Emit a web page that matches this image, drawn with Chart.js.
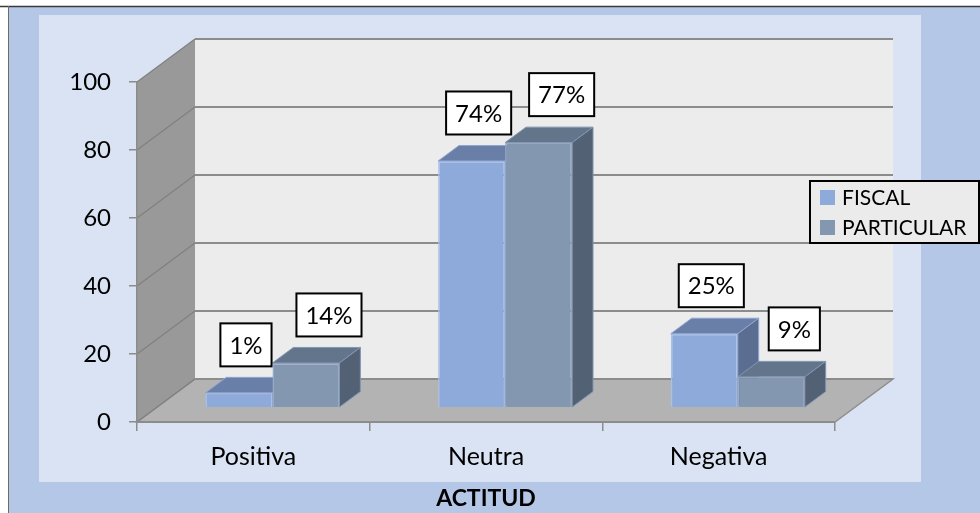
<!DOCTYPE html>
<html><head><meta charset="utf-8">
<script src="https://cdn.jsdelivr.net/npm/chart.js@4.4.1/dist/chart.umd.min.js"></script>
<style>html,body{margin:0;padding:0;background:#fff;overflow:hidden}</style>
</head><body>
<canvas id="c" width="980" height="513"></canvas>
<script>
// ---- data ----
const categories = ['Positiva', 'Neutra', 'Negativa'];
const seriesNames = ['FISCAL', 'PARTICULAR'];
const fiscalValues = [4.4, 72.6, 21.8];
const particularValues = [13.2, 78, 9.1];
const fiscalLabels = ['1%', '74%', '25%'];
const particularLabels = ['14%', '77%', '9%'];
const yTicks = [0, 20, 40, 60, 80, 100];
const axisTitle = 'ACTITUD';

const FONT = 'Lato, "Open Sans", sans-serif';
const DEPTH = { dx: 58, dy: 43 };
const BAR_OFF = 0.33, BAR_DEPTH = 0.36;

function poly(ctx, pts, fill, stroke, lw) {
  ctx.beginPath();
  ctx.moveTo(pts[0][0], pts[0][1]);
  for (let i = 1; i < pts.length; i++) ctx.lineTo(pts[i][0], pts[i][1]);
  ctx.closePath();
  if (fill) { ctx.fillStyle = fill; ctx.fill(); }
  if (stroke) { ctx.strokeStyle = stroke; ctx.lineWidth = lw || 1; ctx.stroke(); }
}

const scene = {
  id: 'scene',
  beforeDraw(chart) {
    const { ctx } = chart;
    const x = chart.scales.x, y = chart.scales.y;
    const W = chart.width, H = chart.height;
    ctx.save();
    ctx.fillStyle = '#ffffff'; ctx.fillRect(0, 0, W, H);
    ctx.fillStyle = '#b4c7e7'; ctx.fillRect(8, 6, W - 8, H - 6);
    ctx.strokeStyle = '#3a3a3a'; ctx.lineWidth = 1.5;
    ctx.beginPath(); ctx.moveTo(0, 6.5); ctx.lineTo(W, 6.5); ctx.stroke();
    ctx.strokeStyle = '#6b6b6b'; ctx.lineWidth = 1;
    ctx.beginPath(); ctx.moveTo(8.5, 6); ctx.lineTo(8.5, H); ctx.stroke();
    ctx.fillStyle = '#dae3f3'; ctx.fillRect(39, 15, 882, 467);

    const L = x.left, R = x.right;
    const B = y.getPixelForValue(0), T = y.getPixelForValue(100);
    const dx = DEPTH.dx, dy = DEPTH.dy;
    poly(ctx, [[L + dx, T - dy], [R + dx, T - dy], [R + dx, B - dy], [L + dx, B - dy]], '#ececec');
    poly(ctx, [[L, T], [L + dx, T - dy], [L + dx, B - dy], [L, B]], '#999999');
    poly(ctx, [[L, B], [L + dx, B - dy], [R + dx, B - dy], [R, B]], '#b3b3b3', '#8f8f8f', 1.5);
    y.ticks.forEach(t => {
      const py = y.getPixelForValue(t.value);
      ctx.strokeStyle = '#8c8c8c'; ctx.lineWidth = 2;
      ctx.beginPath(); ctx.moveTo(L + dx, py - dy); ctx.lineTo(R + dx, py - dy); ctx.stroke();
      ctx.strokeStyle = '#808080'; ctx.lineWidth = 1.2;
      ctx.beginPath(); ctx.moveTo(L, py); ctx.lineTo(L + dx, py - dy); ctx.stroke();
    });
    ctx.restore();
  },
  beforeDatasetsDraw(chart) {
    const { ctx } = chart;
    const ox = DEPTH.dx * BAR_OFF, oy = DEPTH.dy * BAR_OFF;
    const bx = DEPTH.dx * BAR_DEPTH, by = DEPTH.dy * BAR_DEPTH;
    const n = chart.data.labels.length;
    for (let i = 0; i < n; i++) {
      chart.data.datasets.forEach((ds, d) => {
        const el = chart.getDatasetMeta(d).data[i];
        const left = el.x - el.width / 2 + ox, right = el.x + el.width / 2 + ox;
        const top = el.y - oy, base = el.base - oy;
        ctx.save();
        ctx.translate(ox, -oy);
        el.draw(ctx);
        ctx.restore();
        ctx.save();
        ctx.lineJoin = 'round';
        poly(ctx, [[left, top], [left + bx, top - by], [right + bx, top - by], [right, top]], ds.topColor, ds.edgeColor, 1);
        poly(ctx, [[right, top], [right + bx, top - by], [right + bx, base - by], [right, base]], ds.sideColor, ds.edgeColor, 1);
        ctx.restore();
      });
    }
    return false;
  },
  afterDraw(chart) {
    const { ctx } = chart;
    const ox = DEPTH.dx * BAR_OFF, oy = DEPTH.dy * BAR_OFF;
    const by = DEPTH.dy * BAR_DEPTH;
    ctx.save();
    ctx.font = '24px ' + FONT;
    ctx.textAlign = 'center'; ctx.textBaseline = 'middle';
    chart.data.datasets.forEach((ds, d) => {
      chart.getDatasetMeta(d).data.forEach((el, i) => {
        const txt = ds.valueLabels[i];
        const tw = ctx.measureText(txt).width;
        const bw = tw + 18, bh = 43;
        const cx = el.x + ox + ds.labelShift;
        const bottom = el.y - oy - by - 11;
        ctx.fillStyle = '#ffffff';
        ctx.fillRect(cx - bw / 2, bottom - bh, bw, bh);
        ctx.strokeStyle = '#000000'; ctx.lineWidth = 2;
        ctx.strokeRect(cx - bw / 2, bottom - bh, bw, bh);
        ctx.fillStyle = '#000000';
        ctx.fillText(txt, cx, bottom - bh / 2 + 1);
      });
    });
    const lx = 810, ly = 181, lw = 169, lh = 62;
    ctx.fillStyle = '#ebebeb';
    ctx.fillRect(lx, ly, lw, lh);
    ctx.strokeStyle = '#000000'; ctx.lineWidth = 2;
    ctx.strokeRect(lx, ly, lw, lh);
    ctx.font = '21px ' + FONT;
    ctx.textAlign = 'left';
    chart.data.datasets.forEach((ds, d) => {
      const sy = ly + 9 + d * 30;
      ctx.fillStyle = ds.backgroundColor;
      ctx.fillRect(lx + 10, sy, 15, 15);
      ctx.fillStyle = '#000000';
      ctx.fillText(ds.label, lx + 32, sy + 8.5);
    });
    ctx.restore();
  }
};

new Chart(document.getElementById('c'), {
  type: 'bar',
  data: {
    labels: categories,
    datasets: [
      { label: seriesNames[0], data: fiscalValues, backgroundColor: '#8eaadb', borderColor: '#a9c1ea', borderWidth: 1.5,
        topColor: '#6a7fa8', sideColor: '#5b6e91', edgeColor: '#8ea6d2', valueLabels: fiscalLabels, labelShift: 7 },
      { label: seriesNames[1], data: particularValues, backgroundColor: '#8497b0', borderColor: '#97abc6', borderWidth: 1.5,
        topColor: '#63758b', sideColor: '#536175', edgeColor: '#8396b3', valueLabels: particularLabels, labelShift: 23 }
    ]
  },
  options: {
    responsive: false, animation: false, devicePixelRatio: 1,
    datasets: { bar: { categoryPercentage: 0.576, barPercentage: 1 } },
    layout: { padding: { left: 37, right: 145, top: 82, bottom: 0 } },
    plugins: { legend: { display: false }, tooltip: { enabled: false } },
    scales: {
      x: {
        grid: { display: true, drawOnChartArea: false, drawTicks: true, tickLength: 9, color: '#8c8c8c', lineWidth: 1.5, offset: true },
        border: { display: true, color: '#8c8c8c', width: 2 },
        ticks: { font: { family: FONT, size: 25 }, color: '#000', padding: 11 },
        title: { display: true, text: axisTitle, font: { family: FONT, size: 23, weight: 'bold' }, color: '#000', padding: { top: 0, bottom: 1 } },
        afterFit(s) { s.height = 91; }
      },
      y: {
        min: 0, max: 100,
        afterBuildTicks(s) { s.ticks = yTicks.map(v => ({ value: v })); },
        ticks: { font: { family: FONT, size: 24 }, color: '#000', padding: 18 },
        grid: { display: true, drawOnChartArea: false, drawTicks: true, tickLength: 8, color: '#8c8c8c', lineWidth: 1.5 },
        border: { display: true, color: '#8c8c8c', width: 1.5 },
        afterFit(s) { s.width = 100; }
      }
    }
  },
  plugins: [scene]
});
</script>
</body></html>
